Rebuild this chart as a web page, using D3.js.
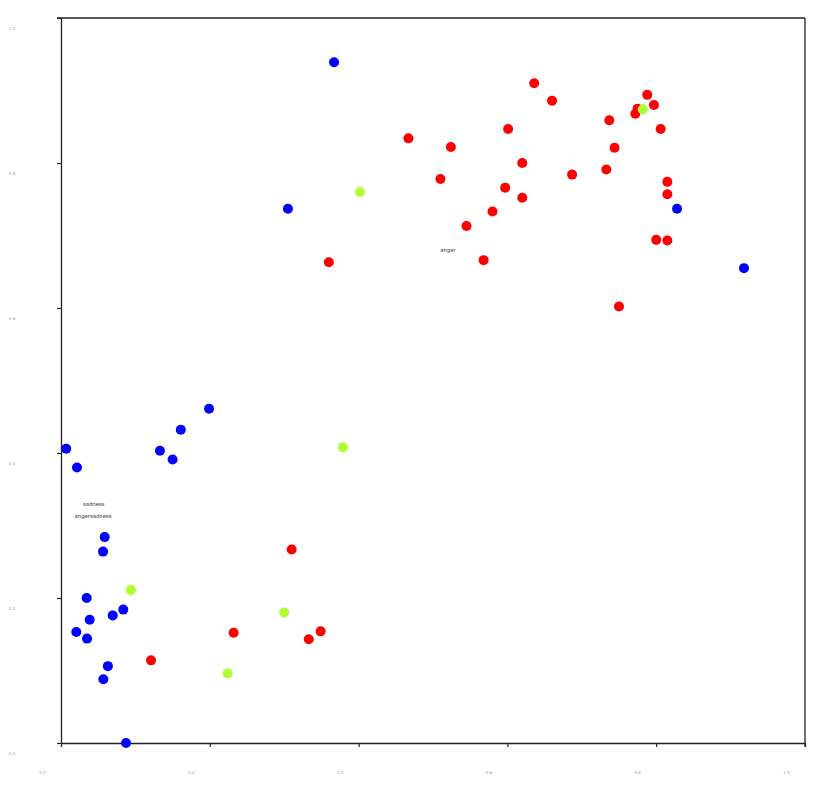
<!DOCTYPE html>
<html>
<head>
<meta charset="utf-8">
<script src="https://cdn.jsdelivr.net/npm/d3@7"></script>
<style>
  html, body { margin: 0; padding: 0; background: #fff; }
  svg { display: block; }
</style>
</head>
<body>
<svg id="chart" width="836" height="789"></svg>
<script>
// ---- data ----
const blueX = [0.367, 0.305, 0.918, 0.828, 0.199, 0.161, 0.007, 0.133, 0.150, 0.0215, 0.0587, 0.0565, 0.0345, 0.0837, 0.0695, 0.0386, 0.0206, 0.035, 0.063, 0.0569, 0.0874];
const blueY = [0.939, 0.737, 0.655, 0.737, 0.461, 0.432, 0.406, 0.403, 0.391, 0.380, 0.284, 0.264, 0.200, 0.184, 0.176, 0.170, 0.153, 0.144, 0.106, 0.088, 0.000];

const redX = [0.636, 0.660, 0.788, 0.797, 0.775, 0.772, 0.737, 0.806, 0.601, 0.467, 0.524, 0.744, 0.620, 0.687, 0.733, 0.510, 0.815, 0.597, 0.815, 0.620, 0.580, 0.545, 0.800, 0.815, 0.568, 0.750, 0.360, 0.310, 0.232, 0.333, 0.349, 0.121];
const redY = [0.910, 0.886, 0.894, 0.880, 0.875, 0.868, 0.859, 0.847, 0.847, 0.834, 0.822, 0.821, 0.800, 0.784, 0.791, 0.778, 0.774, 0.766, 0.757, 0.752, 0.733, 0.713, 0.694, 0.693, 0.666, 0.602, 0.663, 0.267, 0.152, 0.143, 0.154, 0.114];

const greenX = [0.782, 0.402, 0.379, 0.094, 0.300, 0.224];
const greenY = [0.874, 0.760, 0.408, 0.211, 0.180, 0.096];

const labelText = ["sadness", "angersadness", "anger"];
const labelX = [0.044, 0.043, 0.520];
const labelY = [0.330, 0.313, 0.680];

const xTicks = [0.0, 0.2, 0.4, 0.6, 0.8, 1.0];
const yTicks = [0.0, 0.2, 0.4, 0.6, 0.8, 1.0];

// ---- layout ----
const svg = d3.select("#chart");
const pLeft = 61, pRight = 805, pTop = 18, pBottom = 743;
const x = d3.scaleLinear().domain([0, 1]).range([pLeft, pRight]);
const y = d3.scaleLinear().domain([0, 1]).range([pBottom, pTop]);

// frame (top and right)
svg.append("line").attr("x1", pLeft - 4).attr("x2", pRight).attr("y1", pTop).attr("y2", pTop)
  .attr("stroke", "#222").attr("stroke-width", 1.3);
svg.append("line").attr("x1", pRight).attr("x2", pRight).attr("y1", pTop).attr("y2", pBottom + 4)
  .attr("stroke", "#222").attr("stroke-width", 1.3);

// axes
const xAxis = svg.append("g").attr("transform", `translate(0,${pBottom})`)
  .call(d3.axisBottom(x).tickValues(xTicks).tickSize(4).tickSizeOuter(0).tickFormat(d3.format(".1f")));
const yAxis = svg.append("g").attr("transform", `translate(${pLeft},0)`)
  .call(d3.axisLeft(y).tickValues(yTicks).tickSize(4).tickSizeOuter(0).tickFormat(d3.format(".1f")));

[xAxis, yAxis].forEach(g => {
  g.select(".domain").attr("stroke", "#222").attr("stroke-width", 1.3);
  g.selectAll(".tick line").attr("stroke", "#222").attr("stroke-width", 1.2);
  g.selectAll(".tick text").attr("fill", "#9a9a9a").attr("font-size", "4px")
    .attr("font-family", "DejaVu Sans, sans-serif");
});
xAxis.selectAll(".tick text").attr("text-anchor", "middle").attr("x", -19).attr("y", 30).attr("dy", "0.35em");
yAxis.selectAll(".tick text").attr("text-anchor", "middle").attr("x", -49).attr("dy", "0.35em")
  .attr("transform", "translate(0,10)");

// points
const r = 5;
function drawSeries(xs, ys, color) {
  svg.append("g").selectAll("circle")
    .data(xs.map((v, i) => [v, ys[i]]))
    .join("circle")
    .attr("cx", d => x(d[0]))
    .attr("cy", d => y(d[1]))
    .attr("r", r)
    .attr("fill", color);
}
drawSeries(blueX, blueY, "#0000ff");
drawSeries(redX, redY, "#ff0000");
drawSeries(greenX, greenY, "#adff2f");

// labels
svg.append("g").selectAll("text")
  .data(labelText.map((t, i) => [t, labelX[i], labelY[i]]))
  .join("text")
  .attr("x", d => x(d[1]))
  .attr("y", d => y(d[2]))
  .attr("dy", "0.35em")
  .attr("text-anchor", "middle")
  .attr("font-size", "5.3px")
  .attr("font-family", "DejaVu Sans, sans-serif")
  .attr("fill", "#333")
  .text(d => d[0]);
</script>
</body>
</html>
